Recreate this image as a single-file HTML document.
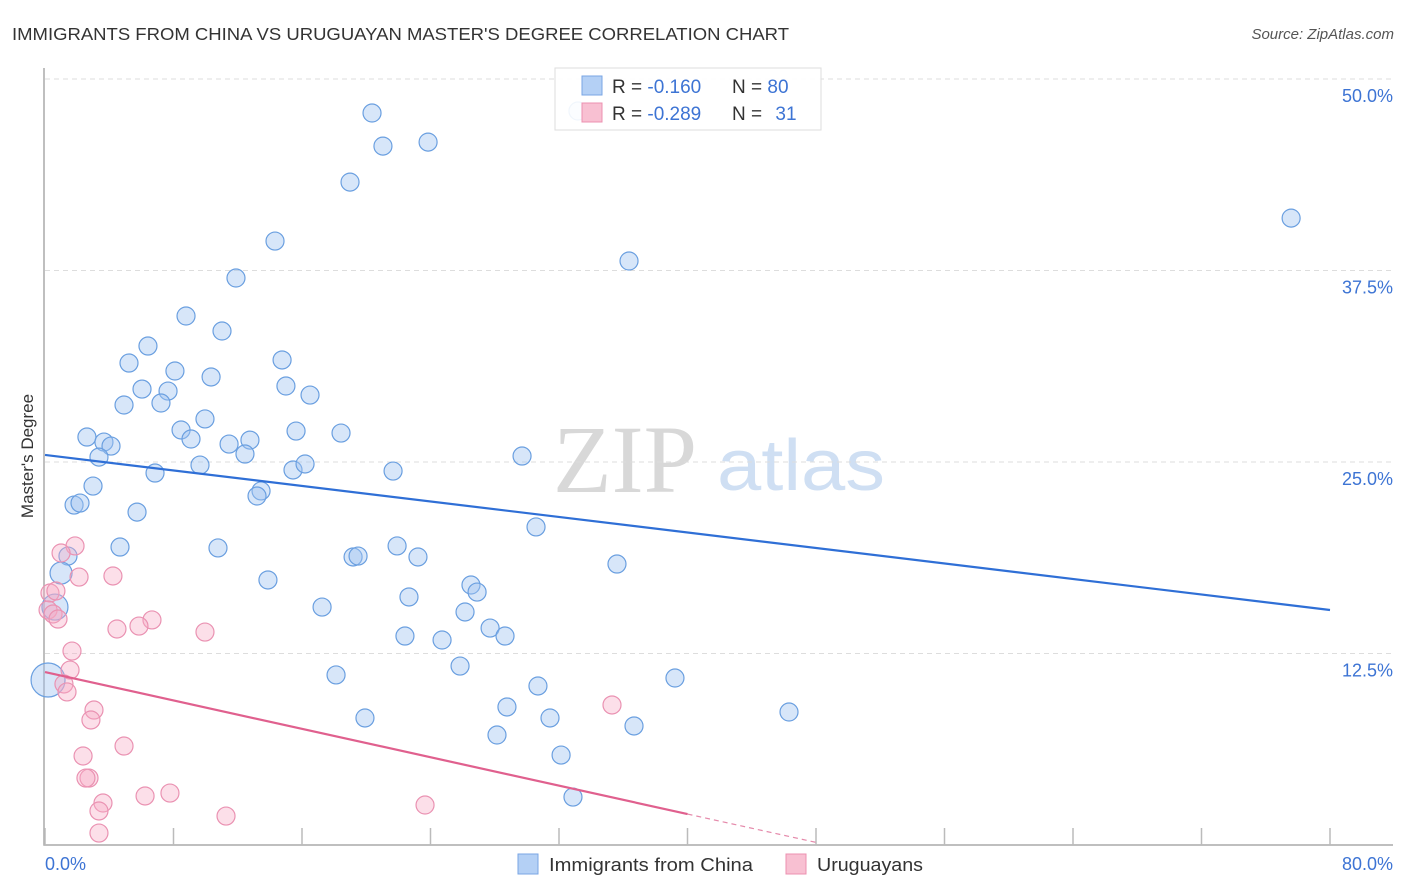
<!DOCTYPE html>
<html><head><meta charset="utf-8"><style>
body{margin:0;background:#fff;font-family:"Liberation Sans",sans-serif;}
svg{display:block}
</style></head><body>
<svg id="chart" width="1406" height="892" xmlns="http://www.w3.org/2000/svg" font-family="Liberation Sans, sans-serif">
<text x="12" y="40" font-size="17.5" fill="#333" textLength="777" lengthAdjust="spacingAndGlyphs">IMMIGRANTS FROM CHINA VS URUGUAYAN MASTER'S DEGREE CORRELATION CHART</text>
<text x="1394" y="39" font-size="15" fill="#555" font-style="italic" text-anchor="end">Source: ZipAtlas.com</text>
<text transform="translate(33,456) rotate(-90)" font-size="17" fill="#333" text-anchor="middle">Master's Degree</text>
<g>
<text x="553" y="492" font-family="Liberation Serif, serif" font-size="96" fill="#d8d8d8">ZIP</text>
<text x="717" y="490" font-size="72" fill="#cfdff3" textLength="168" lengthAdjust="spacingAndGlyphs">atlas</text>
</g>
<g id="grid"></g>
<g id="marks"></g>
<g id="trends"></g>
<g>
<rect x="555" y="68" width="266" height="62" fill="rgba(255,255,255,0.9)" stroke="#ddd"/>
<rect x="582" y="76" width="20" height="19" fill="#b4d0f5" stroke="#7aa6e4"/>
<rect x="582" y="103" width="20" height="19" fill="#f8c0d2" stroke="#ec90b0"/>
<text x="612" y="93" font-size="19" fill="#333">R = <tspan fill="#3d74d4">-0.160</tspan></text>
<text x="732" y="93" font-size="19" fill="#333">N = <tspan fill="#3d74d4">80</tspan></text>
<text x="612" y="120" font-size="19" fill="#333">R = <tspan fill="#3d74d4">-0.289</tspan></text>
<text x="732" y="120" font-size="19" fill="#333">N = <tspan fill="#3d74d4" dx="8">31</tspan></text>
</g>
<g>
<rect x="518" y="854" width="20" height="20" fill="#b4d0f5" stroke="#7aa6e4"/>
<text x="549" y="871" font-size="18" fill="#333" textLength="204" lengthAdjust="spacingAndGlyphs">Immigrants from China</text>
<rect x="786" y="854" width="20" height="20" fill="#f8c0d2" stroke="#ec90b0"/>
<text x="817" y="871" font-size="18" fill="#333" textLength="106" lengthAdjust="spacingAndGlyphs">Uruguayans</text>
</g>
</svg>
<script>
const blueX=[20.36,21.04,23.85,18.99,14.32,36.36,77.58,11.89,8.78,11.02,6.41,5.23,14.76,8.09,10.34,6.04,7.66,15.00,16.50,4.92,7.22,9.96,8.47,2.61,3.67,4.11,9.09,11.46,12.76,15.63,18.43,3.36,12.45,9.65,15.44,16.19,21.67,29.70,6.85,2.99,13.45,13.20,1.81,2.18,5.73,30.57,1.43,4.67,10.77,1.00,21.92,19.18,19.49,23.22,35.61,13.88,26.52,26.90,22.66,0.62,17.25,26.15,27.71,28.64,22.41,24.72,25.84,0.19,18.12,39.22,30.69,28.76,46.32,19.92,31.44,36.67,28.14,32.13,32.87,33.18];
const blueY=[47.78,45.62,45.88,43.27,39.42,38.12,40.92,37.01,34.53,33.55,32.57,31.46,31.66,30.94,30.55,29.76,29.63,29.96,29.37,28.72,28.85,27.81,27.09,26.63,26.30,26.04,26.50,26.17,26.43,27.02,26.89,25.32,25.52,24.80,24.48,24.87,24.41,25.39,24.28,23.43,23.11,22.78,22.19,22.32,21.73,20.76,18.86,19.45,19.39,17.75,19.52,18.80,18.86,18.80,18.34,17.30,16.97,16.51,16.19,15.53,15.53,15.21,14.16,13.64,13.64,13.38,11.68,10.77,11.10,10.90,10.38,9.01,8.68,8.29,8.29,7.77,7.18,5.87,3.13,47.91];
const blueSize=[9,9,9,9,9,9,9,9,9,9,9,9,9,9,9,9,9,9,9,9,9,9,9,9,9,9,9,9,9,9,9,9,9,9,9,9,9,9,9,9,9,9,9,9,9,9,9,9,9,11,9,9,9,9,9,9,9,9,9,13,9,9,9,9,9,9,9,17,9,9,9,9,9,9,9,9,9,9,9,9];
const pinkX=[1.87,1.00,2.12,4.23,0.31,0.68,0.19,0.50,0.81,6.66,4.48,5.85,9.96,1.68,1.56,1.18,1.37,3.05,2.86,35.30,4.92,2.37,2.74,2.55,6.23,7.78,3.61,3.36,23.66,11.27,3.36];
const pinkY=[19.52,19.06,17.49,17.56,16.45,16.58,15.34,15.08,14.75,14.69,14.10,14.29,13.90,12.66,11.42,10.51,9.99,8.81,8.16,9.14,6.46,5.81,4.37,4.37,3.20,3.39,2.74,2.22,2.61,1.89,0.78];
const blueTrend=[25.46,15.34];
const pinkTrend=[11.29,2.02,0.17];
const yTicks=[12.5,25.0,37.5,50.0];
const yTickLabels=["12.5%","25.0%","37.5%","50.0%"];
const xTicks=[0,8,16,24,32,40,48,56,64,72,80];

const NS="http://www.w3.org/2000/svg";
const sx=v=>45+v/80*1285, sy=v=>845-v/50*766;
function mk(tag,attrs,parent){const e=document.createElementNS(NS,tag);for(const k in attrs)e.setAttribute(k,attrs[k]);parent.appendChild(e);return e;}
const grid=document.getElementById('grid'),marks=document.getElementById('marks'),trends=document.getElementById('trends');
yTicks.forEach((t,i)=>{
 const l=mk('line',{x1:45,x2:1393,y1:sy(t),y2:sy(t),stroke:'#ddd','stroke-dasharray':'5,4'},grid);
 
 
 const tx=mk('text',{x:1393,y:sy(t)+23,'font-size':18,fill:'#3d74d4','text-anchor':'end'},grid);
 tx.textContent=yTickLabels[i];
 
 
});
const ax=mk('path',{d:'M44,68 V845 H1393',fill:'none',stroke:'#aaa','stroke-width':1.5},grid);


xTicks.forEach(t=>{
 const l=mk('line',{x1:sx(t),x2:sx(t),y1:828,y2:845,stroke:'#bbb','stroke-width':1.5},grid);
 
 
});
const xl0=mk('text',{x:45,y:870,'font-size':18,fill:'#3d74d4'},grid);xl0.textContent='0.0%';


const xl1=mk('text',{x:1393,y:870,'font-size':18,fill:'#3d74d4','text-anchor':'end'},grid);xl1.textContent='80.0%';


blueX.forEach((x,i)=>{
 const c=mk('circle',{cx:sx(x),cy:sy(blueY[i]),r:blueSize[i],fill:'rgba(160,196,240,0.42)',stroke:'#6a9fe0','stroke-width':1.2},marks);
 
 
});
pinkX.forEach((x,i)=>{
 const c=mk('circle',{cx:sx(x),cy:sy(pinkY[i]),r:9,fill:'rgba(246,172,196,0.38)',stroke:'#ea92b2','stroke-width':1.2},marks);
 
 
});
const bt=mk('line',{x1:sx(0),y1:sy(blueTrend[0]),x2:sx(80),y2:sy(blueTrend[1]),stroke:'#2f6fd6','stroke-width':2.2},trends);


const pt=mk('line',{x1:sx(0),y1:sy(pinkTrend[0]),x2:sx(40),y2:sy(pinkTrend[1]),stroke:'#e0608e','stroke-width':2.2},trends);


const pd=mk('line',{x1:sx(40),y1:sy(pinkTrend[1]),x2:sx(48),y2:sy(pinkTrend[2]),stroke:'#e58aab','stroke-width':1.2,'stroke-dasharray':'5,4'},trends);


</script>
</body></html>
